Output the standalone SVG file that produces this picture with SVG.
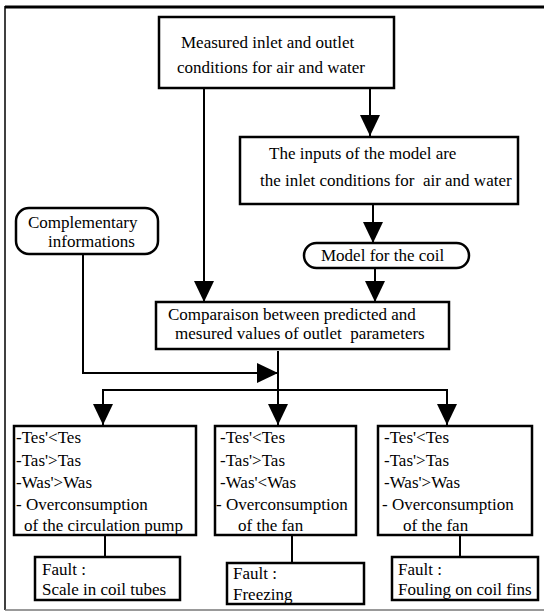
<svg xmlns="http://www.w3.org/2000/svg" width="544" height="613" viewBox="0 0 544 613">
<defs>
<marker id="ah" markerUnits="userSpaceOnUse" markerWidth="22" markerHeight="20" refX="21" refY="10" orient="auto">
<path d="M0,0 L21,10 L0,20 z" fill="#000"/>
</marker>
<style>
.box{fill:#fff;stroke:#000;stroke-width:2.5}
.ln{fill:none;stroke:#000;stroke-width:2}
.t{font-family:'Liberation Serif','DejaVu Serif',serif;font-size:17px;fill:#000}
</style>
</defs>
<rect width="544" height="613" fill="#fff"/>
<g id="frame">
<line x1="5" y1="7" x2="544" y2="7" stroke="#000" stroke-width="3"/>
<line x1="5" y1="6" x2="5" y2="610" stroke="#000" stroke-width="1.5"/>
<line x1="5" y1="610" x2="544" y2="610" stroke="#777" stroke-width="1.5"/>
</g>
<g id="connectors">
<line class="ln" x1="204" y1="88" x2="204" y2="302" marker-end="url(#ah)"/>
<line class="ln" x1="370" y1="88" x2="370" y2="136" marker-end="url(#ah)"/>
<line class="ln" x1="373" y1="204" x2="373" y2="243" marker-end="url(#ah)"/>
<line class="ln" x1="375" y1="268" x2="375" y2="302" marker-end="url(#ah)"/>
<polyline class="ln" points="83,254 83,373 278,373" marker-end="url(#ah)"/>
<line class="ln" x1="278" y1="351" x2="278" y2="425" marker-end="url(#ah)"/>
<polyline class="ln" points="103,425 103,390 447,390 447,425"/>
<line class="ln" x1="103" y1="400" x2="103" y2="425" marker-end="url(#ah)"/>
<line class="ln" x1="447" y1="400" x2="447" y2="425" marker-end="url(#ah)"/>
<line class="ln" x1="105" y1="535" x2="105" y2="557"/>
<line class="ln" x1="292" y1="535" x2="292" y2="563"/>
<line class="ln" x1="460" y1="535" x2="460" y2="557"/>
</g>
<g id="measured" class="t">
<rect class="box" x="159" y="17" width="235" height="71"/>
<text x="181" y="48">Measured inlet and outlet</text>
<text x="177" y="73">conditions for air and water</text>
</g>
<g id="inputs" class="t">
<rect class="box" x="240" y="137" width="278" height="67"/>
<text x="269" y="159">The inputs of the model are</text>
<text x="260" y="186" xml:space="preserve">the inlet conditions for  air and water</text>
</g>
<g id="complementary" class="t">
<rect class="box" x="16" y="208" width="142" height="46" rx="13"/>
<text x="28" y="228">Complementary</text>
<text x="48" y="247">informations</text>
</g>
<g id="model" class="t">
<rect class="box" x="304" y="243" width="165" height="25" rx="12.5"/>
<text x="321" y="261">Model for the coil</text>
</g>
<g id="comparison" class="t">
<rect class="box" x="156" y="302" width="293" height="47"/>
<text x="168" y="320">Comparaison between predicted and</text>
<text x="175" y="339" xml:space="preserve">mesured values of outlet  parameters</text>
</g>
<g id="symptoms1" class="t">
<rect class="box" x="14" y="426" width="182" height="109"/>
<text x="16" y="443">-Tes'&lt;Tes</text>
<text x="16" y="466">-Tas'&gt;Tas</text>
<text x="16" y="488">-Was'&gt;Was</text>
<text x="16" y="510">- Overconsumption</text>
<text x="24" y="531">of the circulation pump</text>
</g>
<g id="symptoms2" class="t">
<rect class="box" x="215" y="426" width="141" height="109"/>
<text x="220" y="443">-Tes'&lt;Tes</text>
<text x="220" y="466">-Tas'&gt;Tas</text>
<text x="220" y="488">-Was'&lt;Was</text>
<text x="216" y="510">- Overconsumption</text>
<text x="238" y="531">of the fan</text>
</g>
<g id="symptoms3" class="t">
<rect class="box" x="378" y="426" width="154" height="109"/>
<text x="384" y="443">-Tes'&lt;Tes</text>
<text x="384" y="466">-Tas'&gt;Tas</text>
<text x="384" y="488">-Was'&gt;Was</text>
<text x="382" y="510">- Overconsumption</text>
<text x="403" y="531">of the fan</text>
</g>
<g id="fault1" class="t">
<rect class="box" x="35" y="557" width="145" height="43"/>
<text x="42" y="575">Fault :</text>
<text x="42" y="595">Scale in coil tubes</text>
</g>
<g id="fault2" class="t">
<rect class="box" x="227" y="563" width="137" height="41"/>
<text x="233" y="579">Fault :</text>
<text x="233" y="600">Freezing</text>
</g>
<g id="fault3" class="t">
<rect class="box" x="392" y="557" width="146" height="43"/>
<text x="398" y="575">Fault :</text>
<text x="398" y="595">Fouling on coil fins</text>
</g>
</svg>
